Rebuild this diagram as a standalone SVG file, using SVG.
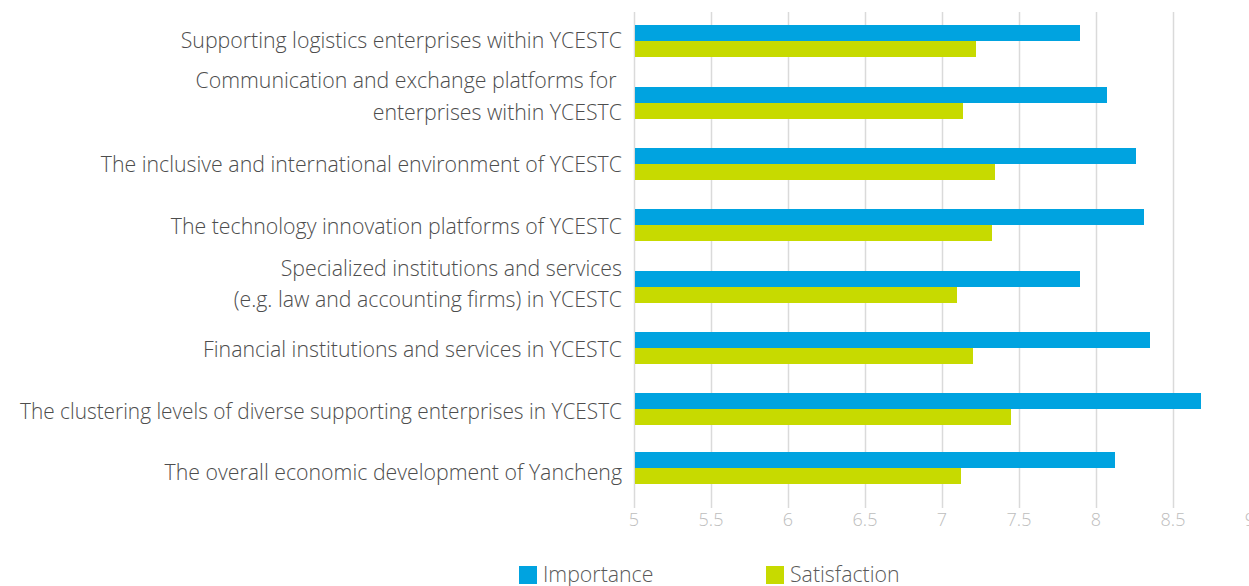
<svg xmlns="http://www.w3.org/2000/svg" width="1249" height="586" viewBox="0 0 1249 586">
<style>
.lbl{font-family:"Open Sans","Liberation Sans",sans-serif;font-weight:300;font-size:21.3px;fill:#4d4d4d;text-anchor:end}
.ax{font-family:"Open Sans","Liberation Sans",sans-serif;font-weight:300;font-size:18px;fill:#bdbdbd;text-anchor:middle}
.leg{font-family:"Open Sans","Liberation Sans",sans-serif;font-weight:300;font-size:21.3px;fill:#5a5a5a}
.grid{stroke:#dadada;stroke-width:1.5}
.imp{fill:#00A3E0}
.sat{fill:#C7DA00}
</style>
<rect width="1249" height="586" fill="#fff"/>
<g id="grid">
<line class="grid" x1="634.5" y1="12" x2="634.5" y2="508"/>
<line class="grid" x1="711.5" y1="12" x2="711.5" y2="508"/>
<line class="grid" x1="788.5" y1="12" x2="788.5" y2="508"/>
<line class="grid" x1="865.5" y1="12" x2="865.5" y2="508"/>
<line class="grid" x1="942.5" y1="12" x2="942.5" y2="508"/>
<line class="grid" x1="1019.5" y1="12" x2="1019.5" y2="508"/>
<line class="grid" x1="1096.5" y1="12" x2="1096.5" y2="508"/>
<line class="grid" x1="1173.5" y1="12" x2="1173.5" y2="508"/>
</g>
<g id="axis">
<text class="ax" x="634" y="526">5</text>
<text class="ax" x="711" y="526">5.5</text>
<text class="ax" x="788" y="526">6</text>
<text class="ax" x="865" y="526">6.5</text>
<text class="ax" x="942" y="526">7</text>
<text class="ax" x="1019" y="526">7.5</text>
<text class="ax" x="1096" y="526">8</text>
<text class="ax" x="1173" y="526">8.5</text>
<text class="ax" x="1250" y="526">9</text>
</g>
<g id="cat1">
<text class="lbl" x="622" y="48">Supporting logistics enterprises within YCESTC</text>
<rect class="imp" x="635" y="25" width="445" height="16"/>
<rect class="sat" x="635" y="41" width="341" height="16"/>
</g>
<g id="cat2">
<text class="lbl" x="622" y="88" xml:space="preserve">Communication and exchange platforms for </text>
<text class="lbl" x="622" y="120">enterprises within YCESTC</text>
<rect class="imp" x="635" y="87" width="472" height="16"/>
<rect class="sat" x="635" y="103" width="328" height="16"/>
</g>
<g id="cat3">
<text class="lbl" x="622" y="172">The inclusive and international environment of YCESTC</text>
<rect class="imp" x="635" y="148" width="501" height="16"/>
<rect class="sat" x="635" y="164" width="360" height="16"/>
</g>
<g id="cat4">
<text class="lbl" x="622" y="234">The technology innovation platforms of YCESTC</text>
<rect class="imp" x="635" y="209" width="509" height="16"/>
<rect class="sat" x="635" y="225" width="357" height="16"/>
</g>
<g id="cat5">
<text class="lbl" x="622" y="276">Specialized institutions and services</text>
<text class="lbl" x="622" y="307">(e.g. law and accounting firms) in YCESTC</text>
<rect class="imp" x="635" y="271" width="445" height="16"/>
<rect class="sat" x="635" y="287" width="322" height="16"/>
</g>
<g id="cat6">
<text class="lbl" x="622" y="357">Financial institutions and services in YCESTC</text>
<rect class="imp" x="635" y="332" width="515" height="16"/>
<rect class="sat" x="635" y="348" width="338" height="16"/>
</g>
<g id="cat7">
<text class="lbl" x="622" y="419" textLength="602" lengthAdjust="spacingAndGlyphs">The clustering levels of diverse supporting enterprises in YCESTC</text>
<rect class="imp" x="635" y="393" width="566" height="16"/>
<rect class="sat" x="635" y="409" width="376" height="16"/>
</g>
<g id="cat8">
<text class="lbl" x="622" y="480">The overall economic development of Yancheng</text>
<rect class="imp" x="635" y="452" width="480" height="16"/>
<rect class="sat" x="635" y="468" width="326" height="16"/>
</g>
<g id="legend">
<rect class="imp" x="519" y="566" width="18" height="18"/>
<text class="leg" x="543" y="582">Importance</text>
<rect class="sat" x="766" y="566" width="18" height="18"/>
<text class="leg" x="790" y="582">Satisfaction</text>
</g>
</svg>
